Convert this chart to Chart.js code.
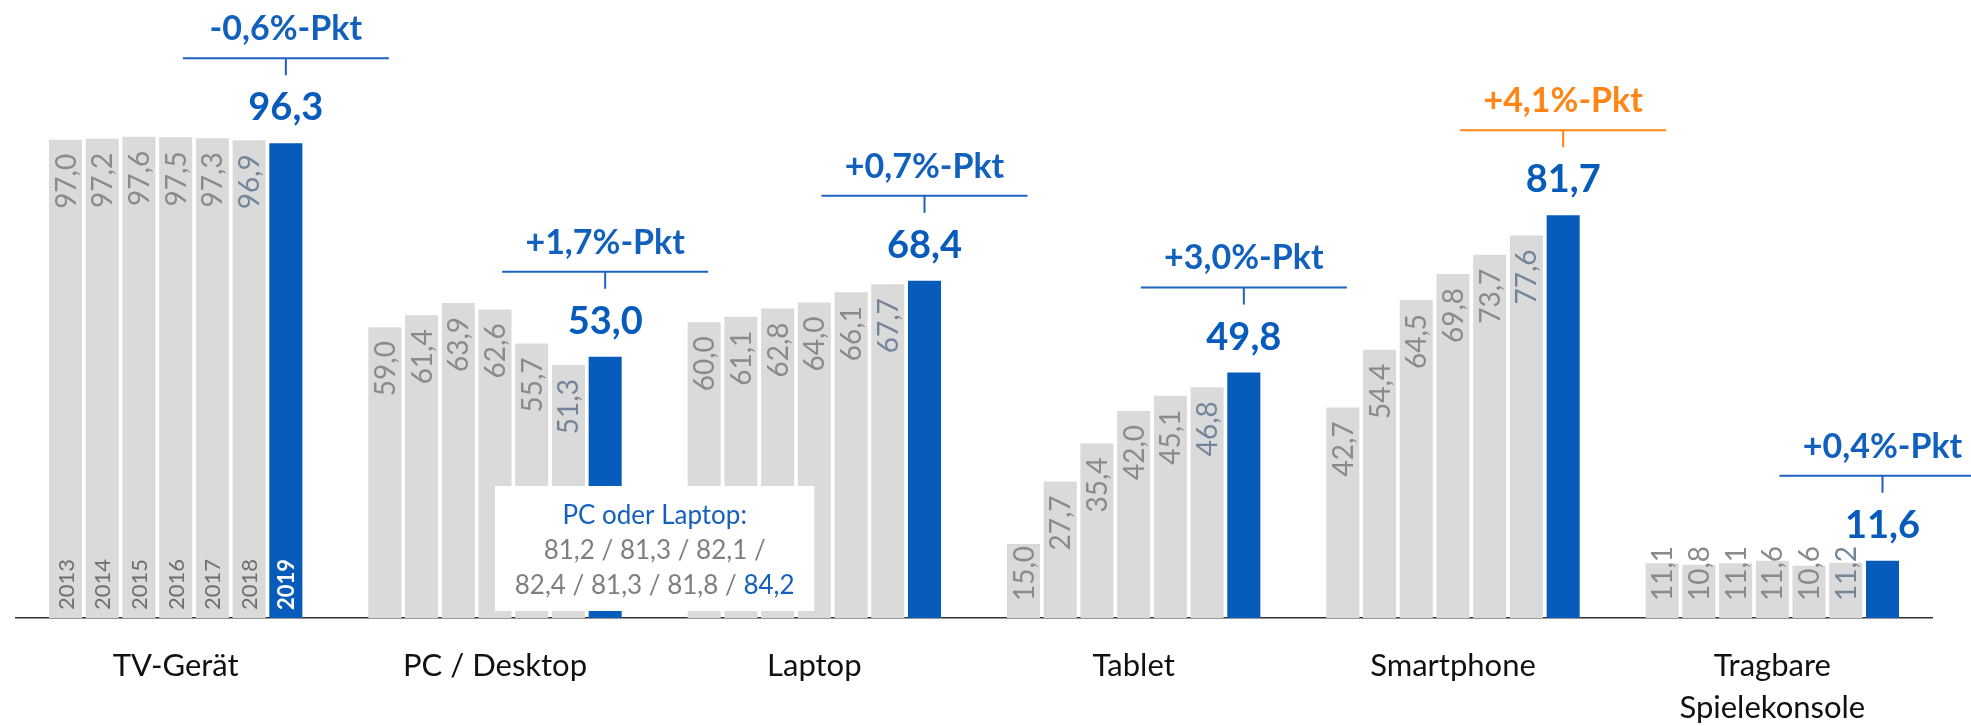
<!DOCTYPE html>
<html>
<head>
<meta charset="utf-8">
<script src="https://cdn.jsdelivr.net/npm/chart.js@4.4.1/dist/chart.umd.min.js"></script>
<style>
    html, body { margin: 0; padding: 0; background: #ffffff; }
</style>
</head>
<body>
<canvas id="chart" width="1971" height="726"></canvas>
<script>
// Kategorien (x-Achse)
const categories = [['TV-Gerät'], ['PC / Desktop'], ['Laptop'], ['Tablet'], ['Smartphone'], ['Tragbare', 'Spielekonsole']];
const years = ['2013', '2014', '2015', '2016', '2017', '2018', '2019'];

// Werte je Gerät, 2013 bis 2019
const tvGeraet   = [97.0, 97.2, 97.6, 97.5, 97.3, 96.9, 96.3];
const pcDesktop  = [59.0, 61.4, 63.9, 62.6, 55.7, 51.3, 53.0];
const laptop     = [60.0, 61.1, 62.8, 64.0, 66.1, 67.7, 68.4];
const tablet     = [15.0, 27.7, 35.4, 42.0, 45.1, 46.8, 49.8];
const smartphone = [42.7, 54.4, 64.5, 69.8, 73.7, 77.6, 81.7];
const spielekonsole = [11.1, 10.8, 11.1, 11.6, 10.6, 11.2, 11.6];

// Veränderung zum Vorjahr
const changes = ['-0,6', '+1,7', '+0,7', '+3,0', '+4,1', '+0,4'];
const highlightChange = 4;

// PC oder Laptop, 2013 bis 2019
const pcOderLaptop = [81.2, 81.3, 82.1, 82.4, 81.3, 81.8, 84.2];

const series = [tvGeraet, pcDesktop, laptop, tablet, smartphone, spielekonsole];

const BLUE = '#065bbb';
const GREY = '#dadada';
const ORANGE = '#ff8514';

function fmt(v) {
    return v.toFixed(1).replace('.', ',');
}

const datasets = years.map((yr, yi) => ({
    label: yr,
    data: series.map(s => s[yi]),
    backgroundColor: yi === years.length - 1 ? BLUE : GREY,
    borderWidth: 0,
    barPercentage: 0.9,
    categoryPercentage: 0.805
}));

// Beschriftungen, Klammern, Infobox
const labelPlugin = {
    id: 'labelPlugin',
    afterDatasetsDraw(chart) {
        const ctx = chart.ctx;
        const xs = chart.scales.x;
        const ys = chart.scales.y;
        const base = ys.getPixelForValue(0);
        const last = years.length - 1;

        ctx.save();

        // gedrehte Werte in den grauen Balken
        chart.data.datasets.forEach((ds, di) => {
            if (di === last) return;
            const meta = chart.getDatasetMeta(di);
            meta.data.forEach((bar, ci) => {
                const txt = fmt(ds.data[ci]);
                ctx.font = '28px Lato';
                const len = ctx.measureText(txt).width;
                let end = bar.y + 14;
                if (end + len > base - 17) end = base - 17 - len;
                ctx.save();
                ctx.translate(bar.x, end + len);
                ctx.rotate(-Math.PI / 2);
                ctx.textAlign = 'left';
                ctx.textBaseline = 'middle';
                ctx.fillStyle = di === last - 1 ? '#74859a' : '#8a8a8a';
                ctx.fillText(txt, 0, 1);
                ctx.restore();
            });
        });

        // Jahreszahlen in der ersten Gruppe
        chart.data.datasets.forEach((ds, di) => {
            const bar = chart.getDatasetMeta(di).data[0];
            ctx.save();
            ctx.translate(bar.x, base - 8);
            ctx.rotate(-Math.PI / 2);
            ctx.textAlign = 'left';
            ctx.textBaseline = 'middle';
            ctx.font = di === last ? 'bold 22px Lato' : '22px Lato';
            ctx.fillStyle = di === last ? '#ffffff' : '#6e6e6e';
            ctx.fillText(years[di], 0, 1);
            ctx.restore();
        });

        // 2019-Werte, Klammern und Veränderung
        const meta19 = chart.getDatasetMeta(last);
        meta19.data.forEach((bar, ci) => {
            ctx.textAlign = 'center';
            ctx.textBaseline = 'middle';
            ctx.font = 'bold 38px Lato';
            ctx.fillStyle = BLUE;
            ctx.fillText(fmt(chart.data.datasets[last].data[ci]), bar.x, bar.y - 35);

            const col = ci === highlightChange ? ORANGE : '#1c64c0';
            const lineY = bar.y - 85;
            ctx.strokeStyle = col;
            ctx.lineWidth = 2;
            ctx.beginPath();
            ctx.moveTo(bar.x - 103, lineY);
            ctx.lineTo(bar.x + 103, lineY);
            ctx.moveTo(bar.x, lineY);
            ctx.lineTo(bar.x, bar.y - 68);
            ctx.stroke();

            ctx.font = 'bold 34px Lato';
            ctx.fillStyle = ci === highlightChange ? ORANGE : '#1260be';
            ctx.fillText(changes[ci] + '%-Pkt', bar.x, bar.y - 114);
        });

        // Infobox "PC oder Laptop"
        const left = xs.getPixelForValue(1);
        const right = xs.getPixelForValue(2);
        const top = base - 132;
        const bottom = base - 7;
        ctx.fillStyle = '#ffffff';
        ctx.fillRect(left, top, right - left, bottom - top);
        const cx = (left + right) / 2;
        ctx.font = '26px Lato';
        ctx.textAlign = 'center';
        ctx.textBaseline = 'middle';
        ctx.fillStyle = '#1560bd';
        ctx.fillText('PC oder Laptop:', cx, top + 30);
        const vals = pcOderLaptop.map(fmt);
        ctx.fillStyle = '#7f7f7f';
        ctx.fillText(vals.slice(0, 3).join(' / ') + ' /', cx, top + 65);
        const grey = vals.slice(3, 6).join(' / ') + ' / ';
        const blue = vals[6];
        const w1 = ctx.measureText(grey).width;
        const w2 = ctx.measureText(blue).width;
        const sx = cx - (w1 + w2) / 2;
        ctx.textAlign = 'left';
        ctx.fillText(grey, sx, top + 100);
        ctx.fillStyle = '#1560bd';
        ctx.fillText(blue, sx + w1, top + 100);

        ctx.restore();
    }
};

new Chart(document.getElementById('chart'), {
    type: 'bar',
    data: {
        labels: categories,
        datasets: datasets
    },
    options: {
        responsive: false,
        animation: false,
        layout: {
            padding: { top: 125, left: 16, right: 39, bottom: 0 }
        },
        plugins: {
            legend: { display: false },
            tooltip: { enabled: false }
        },
        scales: {
            x: {
                grid: { display: false, drawTicks: false },
                border: { display: true, color: '#333333', width: 1.5 },
                ticks: {
                    color: '#111111',
                    padding: 27,
                    font: { family: 'Lato', size: 31, lineHeight: 1.36 }
                },
                afterFit(scale) {
                    scale.height = 108;
                }
            },
            y: {
                display: false,
                min: 0,
                max: 100
            }
        }
    },
    plugins: [labelPlugin]
});
</script>
</body>
</html>
